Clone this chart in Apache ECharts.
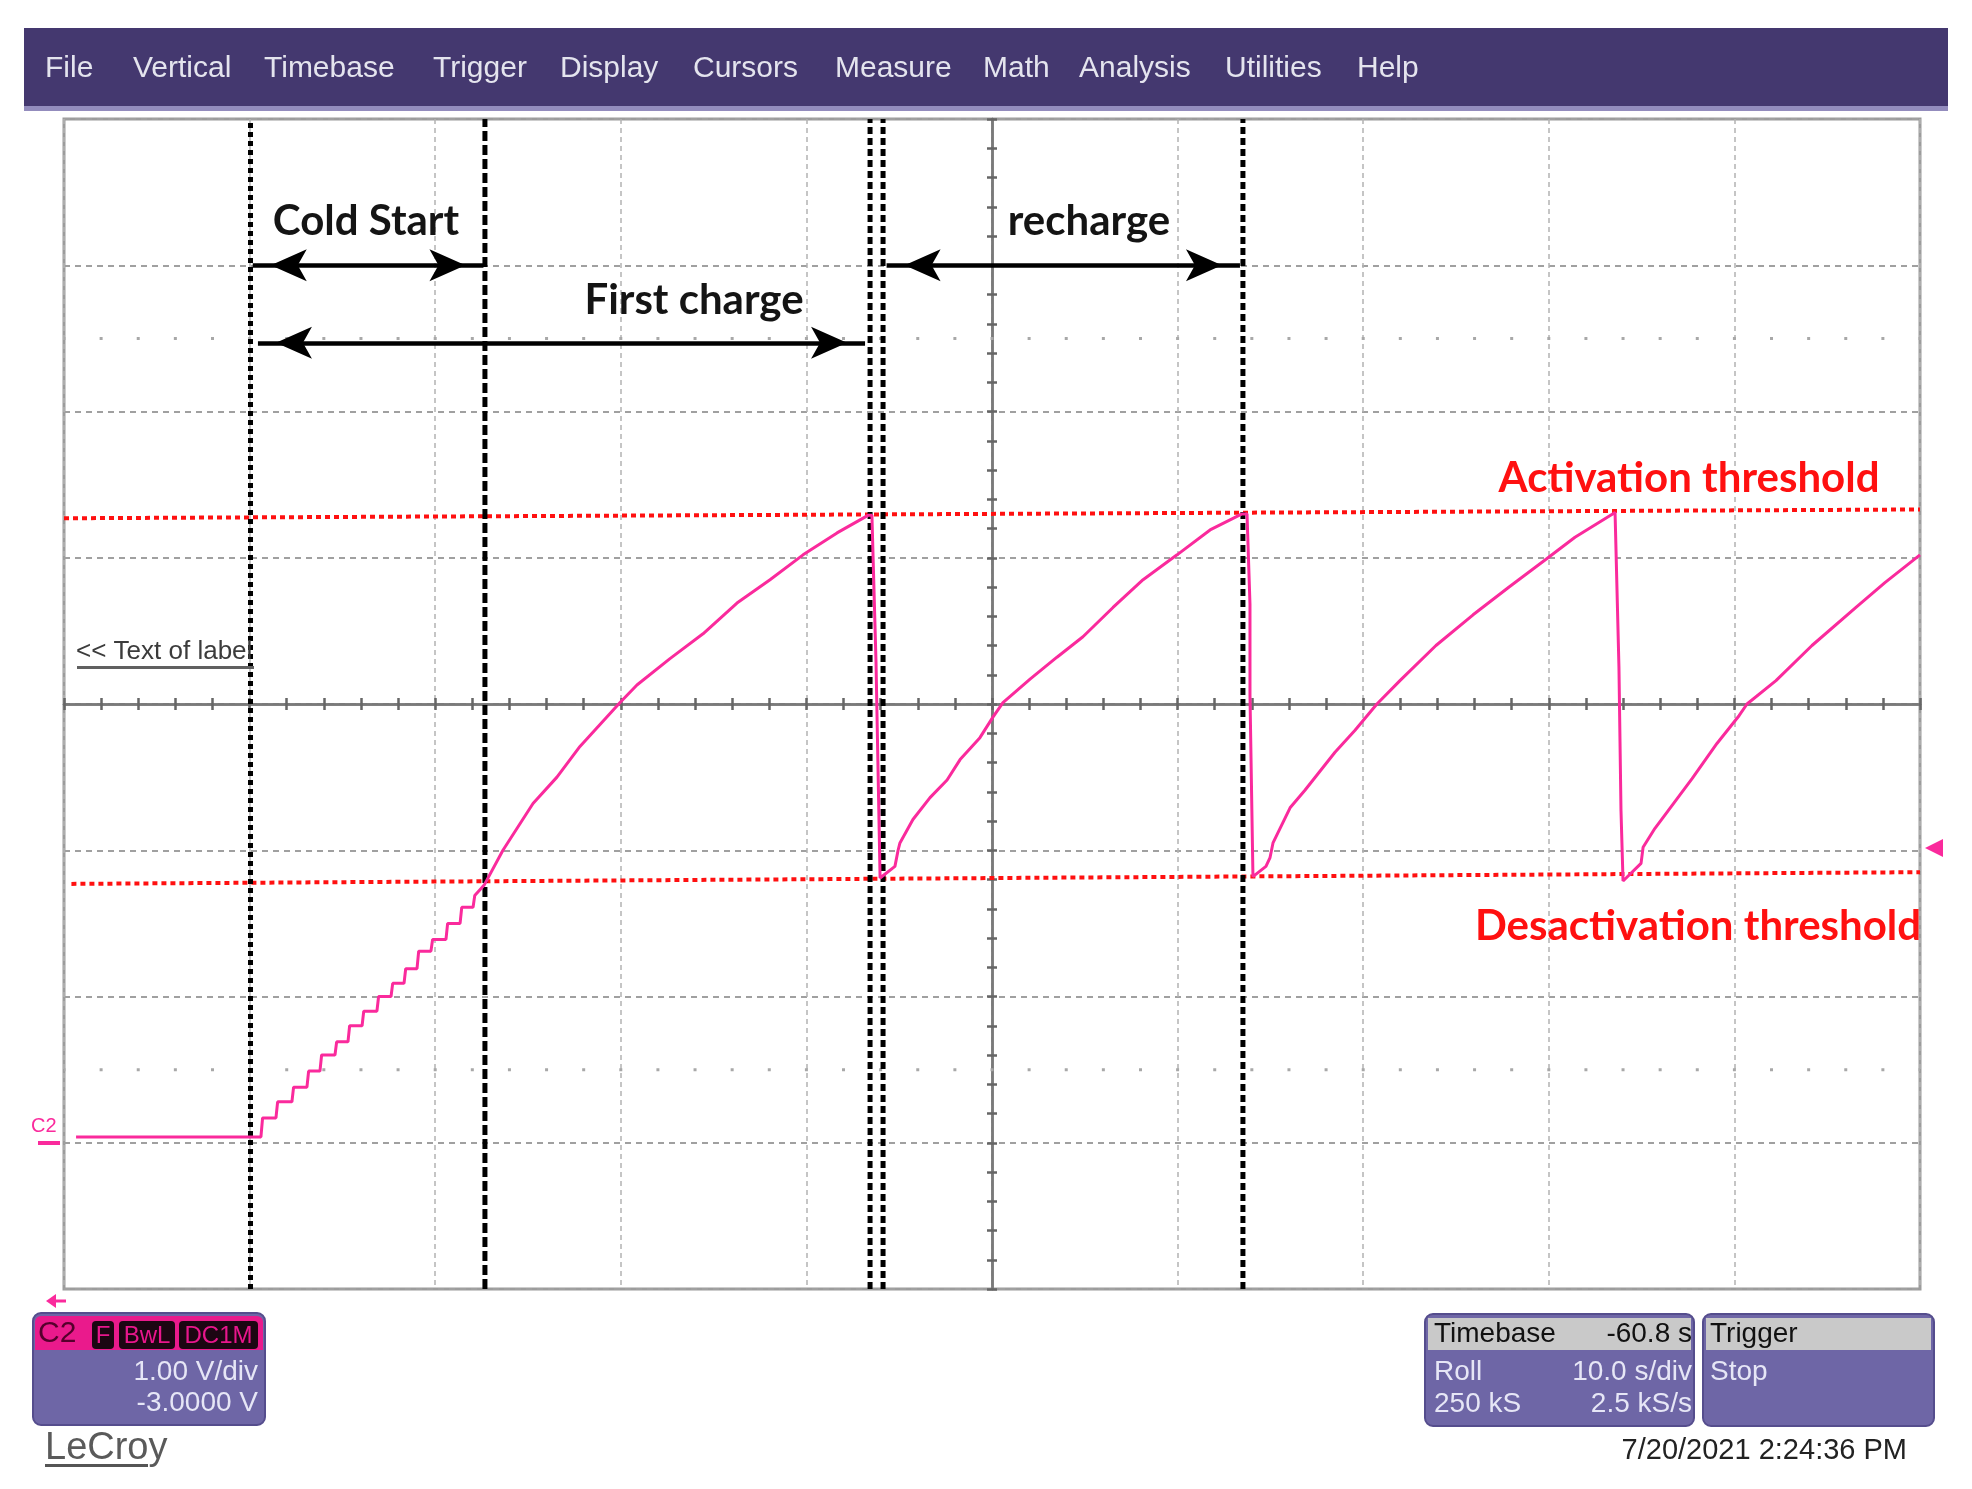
<!DOCTYPE html>
<html><head><meta charset="utf-8">
<script src="https://cdn.jsdelivr.net/npm/echarts@6/dist/echarts.min.js"></script>
<style>html,body{margin:0;padding:0;background:#fff;}#c{width:1972px;height:1489px;}</style>
</head><body><div id="c"></div>
<script>
// ---- data (time in s, 10 s/div; voltage in V, 1 V/div, offset -3 V) ----
const menuItems = ['File','Vertical','Timebase','Trigger','Display','Cursors','Measure','Math','Analysis','Utilities','Help'];

const coldStartT = [0.65,10.61,10.70,11.42,11.51,12.28,12.37,13.09,13.18,13.79,13.88,14.60,14.69,15.30,15.39,16.06,16.15,16.86,16.95,17.62,17.71,18.32,18.41,19.02,19.11,19.77,19.86,20.58,20.67,21.34,21.43,22.04,22.13,22.63];
const coldStartV = [0.04,0.04,0.17,0.17,0.28,0.28,0.38,0.38,0.49,0.49,0.60,0.60,0.69,0.69,0.80,0.80,0.90,0.90,1.00,1.00,1.09,1.09,1.19,1.19,1.31,1.31,1.39,1.39,1.50,1.50,1.61,1.61,1.69,1.76];

const firstChargeT = [23.65,25.27,26.56,27.80,29.96,30.87,32.65,34.43,36.26,38.04,39.82,41.65,43.32,43.53,43.75,43.97];
const firstChargeV = [2.00,2.32,2.50,2.71,3.01,3.13,3.31,3.48,3.69,3.85,4.02,4.17,4.29,4.29,3.29,1.81];

const recharge1T = [44.07,44.77,44.94,45.04,45.74,46.66,47.58,48.28,49.35,50.05,50.59,52.05,53.50,54.90,56.52,58.14,59.97,61.75,63.47,63.74,63.90,63.90,64.06];
const recharge1V = [1.81,1.89,2.00,2.05,2.21,2.36,2.48,2.62,2.77,2.91,3.01,3.17,3.32,3.46,3.66,3.85,4.02,4.19,4.30,4.30,3.68,3.06,1.82];

const recharge2T = [64.76,64.98,65.14,66.06,66.86,67.67,68.48,69.56,70.74,71.98,73.92,75.92,77.86,79.85,81.41,83.57,83.78,83.89,84.00];
const recharge2V = [1.89,1.95,2.05,2.29,2.41,2.54,2.67,2.82,3.00,3.16,3.40,3.61,3.80,3.99,4.14,4.31,3.25,2.27,1.79];

const recharge3T = [84.97,85.08,85.72,87.72,89.06,90.25,90.68,92.24,94.18,96.55,98.11,100.0];
const recharge3V = [1.91,2.02,2.15,2.49,2.73,2.92,3.00,3.16,3.40,3.66,3.83,4.02];

const activationT = [0, 100];
const activationV = [4.27, 4.33];
const deactivationT = [0.4, 100];
const deactivationV = [1.77, 1.85];

const cursorTimes = [10.05, 22.68, 43.43, 44.13, 63.52];
const arrowStartT = [10.17, 10.45, 44.32];
const arrowEndT = [22.60, 43.16, 63.36];
const arrowV = [6.0, 5.47, 6.0];
const dotRowsV = [0.5, 5.5];

// ---- build ----
function zip(t, v) { return t.map((x, i) => [x, v[i]]); }
const traceData = [].concat(
  zip(coldStartT, coldStartV), zip(firstChargeT, firstChargeV),
  zip(recharge1T, recharge1V), zip(recharge2T, recharge2V), zip(recharge3T, recharge3V));

const PINK = '#fa2a9c';
const UIFONT = '"Liberation Sans", Arial, sans-serif';

function centerX(inside) {
  return {type:'value', min:-50, max:50, interval:10, position:'bottom',
    axisLine:{show:true, onZero:true, onZeroAxisIndex:1, lineStyle:{color:'#7a7a7a', width:2.5}},
    axisTick:{show:true, inside:inside, length:6, lineStyle:{color:'#666', width:2.5}},
    minorTick:{show:true, splitNumber:5, length:6, lineStyle:{color:'#666', width:2.5}},
    axisLabel:{show:false}, splitLine:{show:false}, minorSplitLine:{show:false}};
}
function centerY(inside) {
  return {type:'value', min:-4, max:4, interval:1, position:'left',
    axisLine:{show:true, onZero:true, onZeroAxisIndex:1, lineStyle:{color:'#7a7a7a', width:2.5}},
    axisTick:{show:true, inside:inside, length:5, lineStyle:{color:'#666', width:2.5}},
    minorTick:{show:true, splitNumber:5, length:5, lineStyle:{color:'#666', width:2.5}},
    axisLabel:{show:false}, splitLine:{show:false}, minorSplitLine:{show:false}};
}

const series = [];
dotRowsV.forEach(v => series.push({type:'line', data:[[0, v],[100, v]], symbol:'none', silent:true, z:2,
  lineStyle:{color:'#a8a8a8', width:3, type:[3, 34.12], dashOffset:1.5}}));
series.push({type:'line', data:zip(activationT, activationV), symbol:'none', silent:true, z:3,
  lineStyle:{color:'#ff1010', width:4, type:[5,4]}});
series.push({type:'line', data:zip(deactivationT, deactivationV), symbol:'none', silent:true, z:3,
  lineStyle:{color:'#ff1010', width:4, type:[5,4]}});
const cursorDash = [[5,4],[10,4],[7,4],[7,4],[7,4]];
cursorTimes.forEach((t, i) => series.push({type:'line', data:[[t,-1],[t,7]], symbol:'none', silent:true, z:4,
  lineStyle:{color:'#000', width:5, type:cursorDash[i]}}));
series.push({type:'line', data:traceData, symbol:'none', silent:true, z:6,
  lineStyle:{color:PINK, width:3}});
series.push({type:'line', data:[], symbol:'none', silent:true, z:7,
  markLine:{silent:true, animation:false, symbol:['arrow','arrow'], label:{show:false},
    lineStyle:{color:'#000', width:4.5, type:'solid'},
    emphasis:{disabled:true},
    data: arrowStartT.map((s, i) => [
      {coord:[s, arrowV[i]], symbolSize:[24,36], symbolOffset:[0,18]},
      {coord:[arrowEndT[i], arrowV[i]], symbolSize:[24,36], symbolOffset:[0,18]}])}});

function txt(text, x, y, font, fill, align) {
  return {type:'text', z:100, silent:true, style:{text:text, x:x, y:y, font:font, fill:fill,
    textAlign:align||'left', align:align||'left', textVerticalAlign:'middle', verticalAlign:'middle'}};
}
function rect(x, y, w, h, fill, r, stroke, lw) {
  return {type:'rect', z:90, silent:true, shape:{x:x, y:y, width:w, height:h, r:r||0},
    style:{fill:fill, stroke:stroke||null, lineWidth:lw||0}};
}

const menuX = [45,133,264,433,560,693,835,983,1079,1225,1357];
const graphic = [
  rect(24, 28, 1924, 80, '#44386f'),
  rect(24, 106, 1924, 5, '#938cbd'),
];
menuItems.forEach((m, i) => graphic.push(txt(m, menuX[i], 69, '30px ' + UIFONT, '#e4e4ee')));

// annotations
const ANN = 'bold 42px Lato, "Open Sans", sans-serif';
graphic.push(txt('Cold Start', 366, 221, ANN, '#141414', 'center'));
graphic.push(txt('First charge', 694, 300, ANN, '#141414', 'center'));
graphic.push(txt('recharge', 1089, 221, ANN, '#141414', 'center'));
graphic.push(txt('Activation threshold', 1689, 478, ANN, '#ff1010', 'center'));
graphic.push(txt('Desactivation threshold', 1698, 926, ANN, '#ff1010', 'center'));
graphic.push(txt('<< Text of label', 76, 652, '26px ' + UIFONT, '#3c3c3c'));
graphic.push(rect(77, 666, 177, 3, '#606060'));

// channel markers
graphic.push(txt('C2', 31, 1126, '20px ' + UIFONT, PINK));
graphic.push(rect(38, 1141, 22, 4, PINK));
graphic.push({type:'polygon', z:90, silent:true, shape:{points:[[1925,848],[1943,839],[1943,857]]}, style:{fill:PINK}});
graphic.push({type:'polygon', z:90, silent:true, shape:{points:[[46,1301],[56,1294],[56,1308]]}, style:{fill:PINK}});
graphic.push({type:'line', z:90, silent:true, shape:{x1:54, y1:1301, x2:66, y2:1301}, style:{stroke:PINK, lineWidth:3}});

// C2 box
graphic.push(rect(33, 1313, 232, 112, '#6e66a6', 8, '#554d8d', 2));
graphic.push(rect(35, 1316, 228, 34, '#ea1a8c', [6,6,0,0]));
graphic.push(txt('C2', 38, 1334, '30px ' + UIFONT, '#55002c'));
graphic.push(rect(92, 1321, 22, 28, '#1c0612', 4));
graphic.push(rect(119, 1321, 56, 28, '#1c0612', 4));
graphic.push(rect(179, 1321, 79, 28, '#1c0612', 4));
graphic.push(txt('F', 103, 1336, '24px ' + UIFONT, '#e8168c', 'center'));
graphic.push(txt('BwL', 147, 1336, '24px ' + UIFONT, '#e8168c', 'center'));
graphic.push(txt('DC1M', 218.5, 1336, '24px ' + UIFONT, '#e8168c', 'center'));
graphic.push(txt('1.00 V/div', 258, 1372, '28px ' + UIFONT, '#e6e6f6', 'right'));
graphic.push(txt('-3.0000 V', 258, 1403, '28px ' + UIFONT, '#e6e6f6', 'right'));
graphic.push(txt('LeCroy', 45, 1449, '38px ' + UIFONT, '#5a5a5a'));
graphic.push(rect(45, 1464, 103, 3, '#555'));

// Timebase box
graphic.push(rect(1425, 1314, 269, 112, '#6e66a6', 8, '#554d8d', 2));
graphic.push(rect(1428, 1318, 263, 32, '#c9c9c9'));
graphic.push(txt('Timebase', 1434, 1334, '28px ' + UIFONT, '#111'));
graphic.push(txt('-60.8 s', 1692, 1334, '28px ' + UIFONT, '#111', 'right'));
graphic.push(txt('Roll', 1434, 1372, '28px ' + UIFONT, '#e6e6f6'));
graphic.push(txt('10.0 s/div', 1692, 1372, '28px ' + UIFONT, '#e6e6f6', 'right'));
graphic.push(txt('250 kS', 1434, 1404, '28px ' + UIFONT, '#e6e6f6'));
graphic.push(txt('2.5 kS/s', 1692, 1404, '28px ' + UIFONT, '#e6e6f6', 'right'));
// Trigger box
graphic.push(rect(1703, 1314, 231, 112, '#6e66a6', 8, '#554d8d', 2));
graphic.push(rect(1706, 1318, 225, 32, '#c9c9c9'));
graphic.push(txt('Trigger', 1710, 1334, '28px ' + UIFONT, '#111'));
graphic.push(txt('Stop', 1710, 1372, '28px ' + UIFONT, '#e6e6f6'));
graphic.push(txt('7/20/2021 2:24:36 PM', 1907, 1451, '29px ' + UIFONT, '#222', 'right'));

const option = {
  animation:false,
  backgroundColor:'#ffffff',
  grid:{left:64, top:119, width:1856, height:1170, show:true, borderColor:'#9c9c9c', borderWidth:3, backgroundColor:'#ffffff'},
  xAxis:[
    {type:'value', min:0, max:100, interval:10, axisLine:{show:false}, axisTick:{show:false}, axisLabel:{show:false},
      splitLine:{show:true, lineStyle:{color:'#b2b2b2', width:1.5, type:[5,4]}}},
    centerX(true), centerX(false)
  ],
  yAxis:[
    {type:'value', min:-1, max:7, interval:1, axisLine:{show:false}, axisTick:{show:false}, axisLabel:{show:false},
      splitLine:{show:true, lineStyle:{color:'#a0a0a0', width:2, type:[6,5]}}},
    centerY(true), centerY(false)
  ],
  series:series,
  graphic:graphic
};
const chart = echarts.init(document.getElementById('c'), null, {renderer:'canvas', width:1972, height:1489});
chart.setOption(option);
</script>
</body></html>
